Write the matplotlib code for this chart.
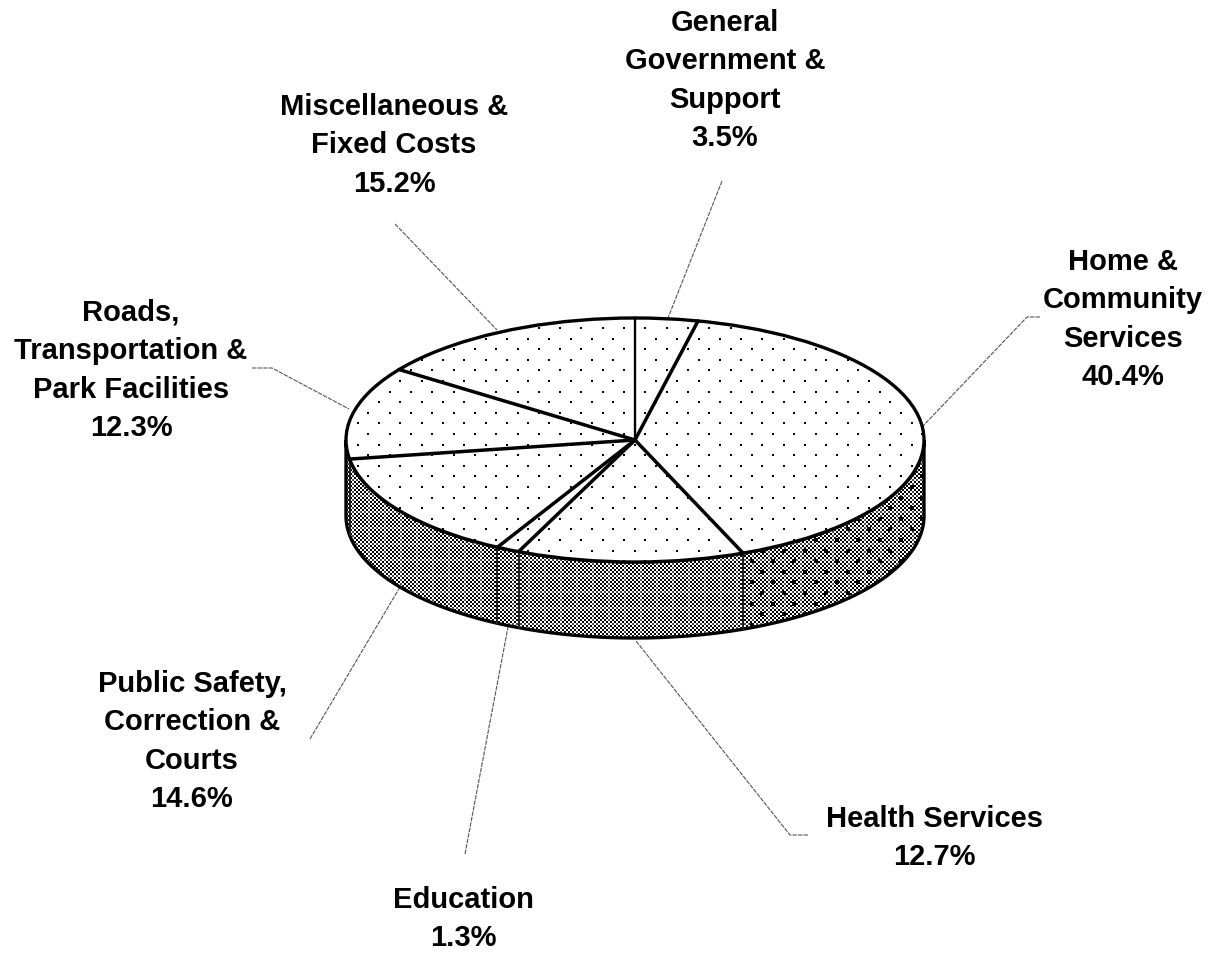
import matplotlib
matplotlib.use('Agg')
import matplotlib.pyplot as plt
import numpy as np
from matplotlib.patches import Polygon, Ellipse

# Shares, clockwise from 12 o'clock
categorias = ['General Government & Support', 'Home & Community Services', 'Health Services',
              'Education', 'Public Safety, Correction & Courts',
              'Roads, Transportation & Park Facilities', 'Miscellaneous & Fixed Costs']
valores = [3.5, 40.4, 12.7, 1.3, 14.6, 12.3, 15.2]

# Label lines, as printed
etiquetas = [
    ['General', 'Government &', 'Support', '3.5%'],
    ['Home &', 'Community', 'Services', '40.4%'],
    ['Health Services', '12.7%'],
    ['Education', '1.3%'],
    ['Public Safety,', 'Correction &', 'Courts', '14.6%'],
    ['Roads,', 'Transportation &', 'Park Facilities', '12.3%'],
    ['Miscellaneous &', 'Fixed Costs', '15.2%'],
]
etiqueta_x = [725, 1123, 934, 463, 192, 131, 394]
etiqueta_y = [23, 262, 819, 900, 684, 313, 107]

# Leader lines
guias = [
    ([722, 668], [182, 319]),
    ([1040, 1027, 922], [318, 318, 428]),
    ([808, 790, 636], [836, 836, 642]),
    ([465, 508], [855, 628]),
    ([310, 400], [740, 588]),
    ([252, 272, 349], [369, 369, 410]),
    ([395, 497], [225, 331]),
]

cx, cy = 635, 441
rx, ry = 289, 122
alto = 76


def rim(frac):
    t = 2 * np.pi * np.asarray(frac)
    return cx + rx * np.sin(t), cy - ry * np.cos(t)


cortes = np.cumsum(valores) / np.sum(valores)

fig = plt.figure(figsize=(12.14, 9.54), dpi=100)
ax = fig.add_axes([0, 0, 1, 1])
ax.set_xlim(0, 1214)
ax.set_ylim(954, 0)
ax.axis('off')

# Side wall with a checker texture
t = np.linspace(0.25, 0.75, 300)
xs, ys = rim(t)
pared = np.column_stack([np.r_[xs, xs[::-1]], np.r_[ys, ys[::-1] + alto]])
yy, xx = np.mgrid[0:954, 0:1214]
cuadros = ((xx // 2 + yy // 2) % 2).astype(float)
cuadros[((xx % 16 < 2) | (yy % 16 < 2)) & (cuadros == 0)] = 0.3
im = ax.imshow(cuadros, cmap='gray', vmin=0, vmax=1, extent=(0, 1214, 954, 0),
               interpolation='nearest', aspect='auto', zorder=1)
p_pared = Polygon(pared, closed=True, fc='none', ec='black', lw=2.4, zorder=3)
ax.add_patch(p_pared)
im.set_clip_path(p_pared)

# Dots on the Home & Community part of the wall
filas = np.arange(0, 40)
puntos_x, puntos_y = [], []
for k in filas:
    col = np.arange(-20, 40) * 21.3 + 645.3 + (k % 2) * 10.65
    puntos_x.extend(col)
    puntos_y.extend(np.full(col.size, 329 + 10.6 * k))
puntos_x = np.array(puntos_x)
puntos_y = np.array(puntos_y)
d = ax.scatter(puntos_x, puntos_y, s=7, c='black', marker='s', lw=0, zorder=2)
xa, ya = rim(np.linspace(0.25, cortes[1], 120))
zona = Polygon(np.column_stack([np.r_[xa, xa[::-1]], np.r_[ya, ya[::-1] + alto]]),
               closed=True, fc='none', ec='none', zorder=0)
ax.add_patch(zona)
d.set_clip_path(zona)

# Top of the pie
tapa = Ellipse((cx, cy), 2 * rx, 2 * ry, fc='white', ec='black', lw=2.4, zorder=4)
ax.add_patch(tapa)
d2 = ax.scatter(puntos_x, puntos_y, s=3.8, c='black', marker='s', lw=0, zorder=5)
d2.set_clip_path(tapa)

# Slice borders
ax.plot([cx, cx], [cy - ry, cy], color='black', lw=1.7, zorder=6)
for f in cortes[:-1]:
    x1, y1 = rim(f)
    ax.plot([cx, x1], [cy, y1], color='black', lw=2.5, zorder=6, solid_capstyle='round')
    if y1 > cy:
        ax.plot([x1, x1], [y1, y1 + alto], color='#222222', lw=1.5, zorder=3)

for gx, gy in guias:
    ax.plot(gx, gy, color='#555555', lw=0.8, ls=(0, (4, 1)), zorder=1)

for lineas, lx, ly in zip(etiquetas, etiqueta_x, etiqueta_y):
    for i, txt in enumerate(lineas):
        ax.text(lx, ly + i * 38.4, txt, family='Liberation Sans', weight='bold',
                fontsize=21, ha='center', va='center', color='black')

fig.savefig('out.png', dpi=100)
